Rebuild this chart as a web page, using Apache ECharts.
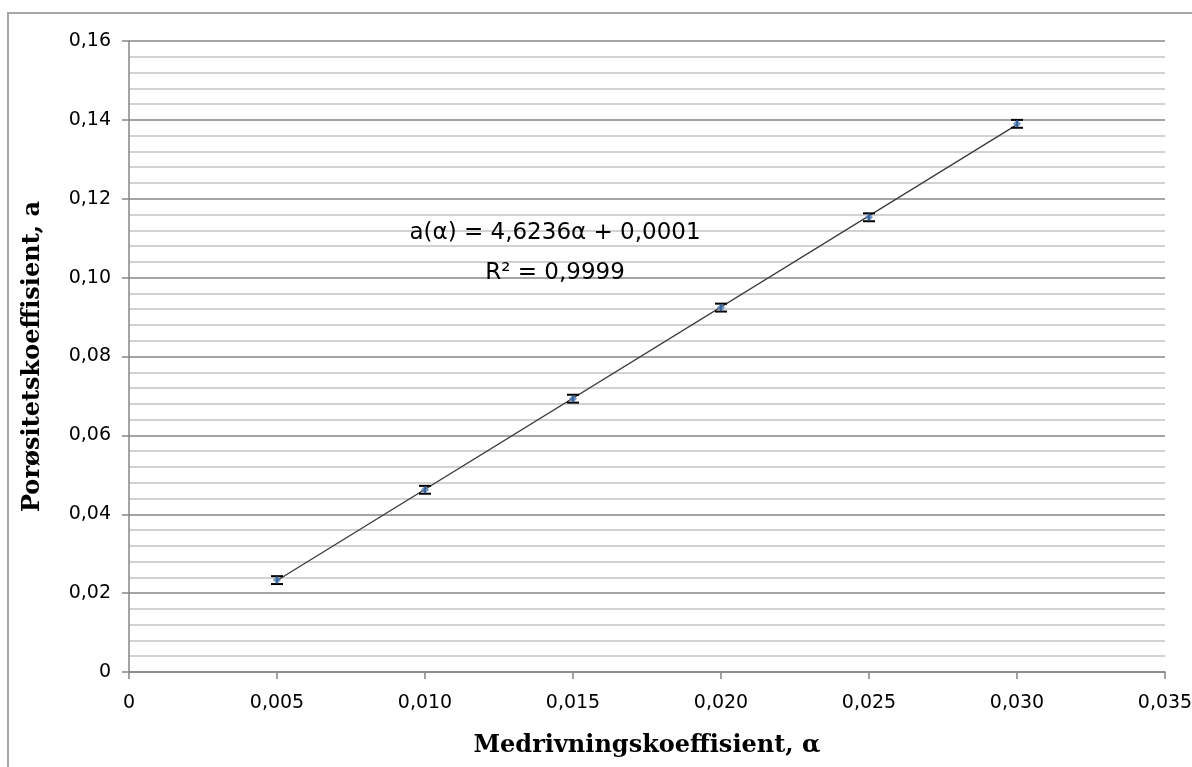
<!DOCTYPE html>
<html>
<head>
<meta charset="utf-8">
<script src="https://cdn.jsdelivr.net/npm/echarts@6/dist/echarts.min.js"></script>
<style>
  html, body { margin: 0; padding: 0; background: #fff; }
  #chart { width: 1192px; height: 767px; }
</style>
</head>
<body>
<div id="chart"></div>
<script>
// measured points (medrivningskoeffisient, porøsitetskoeffisient)
const alphaValues = [0.005, 0.010, 0.015, 0.020, 0.025, 0.030];
const porosityValues = [0.0233, 0.0462, 0.0693, 0.0924, 0.1153, 0.1390];
const errorValues = [0.001, 0.001, 0.001, 0.001, 0.001, 0.001];

// trend line from the chart's equation
const trendSlope = 4.6236;
const trendIntercept = 0.0001;
const trendLabel = 'a(α) = 4,6236α + 0,0001\nR² = 0,9999';

const fmtComma = (v, d) => v === 0 ? '0' : v.toFixed(d).replace('.', ',');

const chart = echarts.init(document.getElementById('chart'));

const points = alphaValues.map((x, i) => [x, porosityValues[i]]);
const errData = alphaValues.map((x, i) => [x, porosityValues[i] - errorValues[i], porosityValues[i] + errorValues[i]]);
const xFirst = alphaValues[0], xLast = alphaValues[alphaValues.length - 1];
const trendData = [
  [xFirst, trendSlope * xFirst + trendIntercept],
  [xLast, trendSlope * xLast + trendIntercept]
];

const labelFont = '"DejaVu Sans", sans-serif';
const titleStyle = { fontFamily: '"DejaVu Serif", serif', fontWeight: 'bold', fontSize: 24, color: '#000' };

const option = {
  animation: false,
  grid: { left: 129, top: 41, right: 27, bottom: 95, containLabel: false, outerBoundsMode: 'none' },
  graphic: [
    {
      type: 'rect',
      shape: { x: 8, y: 13, width: 1200, height: 800 },
      style: { fill: 'none', stroke: '#a6a6a6', lineWidth: 2 },
      silent: true, z: -1
    },
    {
      type: 'text',
      x: 555, y: 253,
      style: {
        text: trendLabel, fill: '#000', font: '23px "DejaVu Sans", sans-serif',
        align: 'center', verticalAlign: 'middle', lineHeight: 40
      },
      z: 10
    }
  ],
  xAxis: {
    type: 'value',
    min: 0, max: 0.035, interval: 0.005,
    name: 'Medrivningskoeffisient, α',
    nameLocation: 'middle', nameGap: 62,
    nameTextStyle: titleStyle,
    axisLine: { show: true, lineStyle: { color: '#868686', width: 1.5 } },
    axisTick: { show: true, length: 7, lineStyle: { color: '#868686', width: 1.5 } },
    axisLabel: {
      margin: 22, color: '#000', fontSize: 19, fontFamily: labelFont,
      formatter: v => fmtComma(v, 3)
    },
    splitLine: { show: false }
  },
  yAxis: {
    type: 'value',
    min: 0, max: 0.16, interval: 0.02,
    name: 'Porøsitetskoeffisient, a',
    nameLocation: 'middle', nameGap: 84,
    nameTextStyle: titleStyle,
    axisLine: { show: true, lineStyle: { color: '#868686', width: 1.5 } },
    axisTick: { show: true, length: 7, lineStyle: { color: '#868686', width: 1.5 } },
    axisLabel: {
      margin: 18, color: '#000', fontSize: 19, fontFamily: labelFont,
      formatter: v => fmtComma(v, 2)
    },
    splitLine: { show: true, lineStyle: { color: '#878787', width: 1.5 } },
    minorTick: { show: false, splitNumber: 5 },
    minorSplitLine: { show: true, lineStyle: { color: '#c3c3c3', width: 1.5 } }
  },
  series: [
    {
      name: 'trend',
      type: 'line',
      data: trendData,
      symbol: 'none',
      lineStyle: { color: '#3a3a3a', width: 1.3 },
      z: 2, silent: true
    },
    {
      name: 'error',
      type: 'custom',
      data: errData,
      encode: { x: 0, y: [1, 2] },
      renderItem: (params, api) => {
        const x = api.value(0);
        const lo = api.coord([x, api.value(1)]);
        const hi = api.coord([x, api.value(2)]);
        const cap = 6;
        const style = { stroke: '#000', lineWidth: 2 };
        return {
          type: 'group',
          children: [
            { type: 'line', shape: { x1: lo[0], y1: lo[1], x2: hi[0], y2: hi[1] }, style },
            { type: 'line', shape: { x1: lo[0] - cap, y1: lo[1], x2: lo[0] + cap, y2: lo[1] }, style },
            { type: 'line', shape: { x1: hi[0] - cap, y1: hi[1], x2: hi[0] + cap, y2: hi[1] }, style }
          ]
        };
      },
      z: 4, silent: true
    },
    {
      name: 'data',
      type: 'scatter',
      data: points,
      symbol: 'diamond',
      symbolSize: 8,
      itemStyle: { color: '#4a7ebb' },
      z: 5
    }
  ]
};

chart.setOption(option);
</script>
</body>
</html>
